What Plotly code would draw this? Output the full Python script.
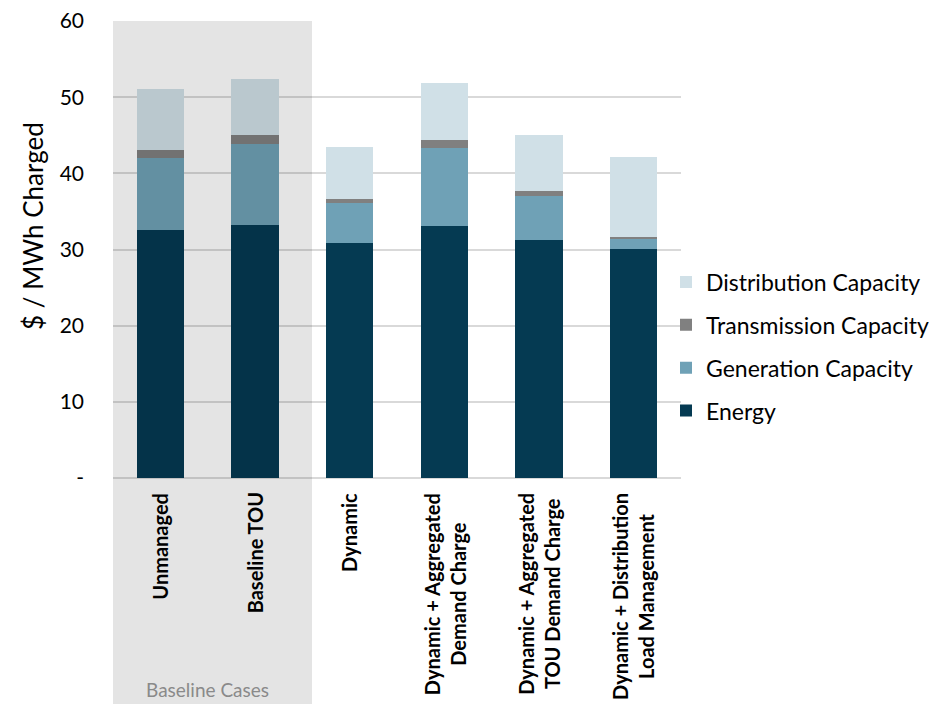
import plotly.graph_objects as go

categories = [
    "Unmanaged",
    "Baseline TOU",
    "Dynamic",
    "Dynamic + Aggregated<br>Demand Charge",
    "Dynamic + Aggregated<br>TOU Demand Charge",
    "Dynamic + Distribution<br>Load Management",
]
energy = [32.5, 33.2, 30.9, 33.1, 31.2, 30.1]
generation = [9.5, 10.6, 5.2, 10.2, 5.8, 1.3]
transmission = [1.1, 1.2, 0.5, 1.1, 0.7, 0.2]
distribution = [8.0, 7.4, 6.9, 7.4, 7.3, 10.6]

series_names = ["Energy", "Generation Capacity", "Transmission Capacity", "Distribution Capacity"]
series_values = [energy, generation, transmission, distribution]
series_colors = ["#053A52", "#6FA1B6", "#808080", "#D0E0E7"]

y_tickvals = [0, 10, 20, 30, 40, 50, 60]
y_ticktext = ["-", "10", "20", "30", "40", "50", "60"]

FONT = "Lato"

fig = go.Figure()
n = len(series_names)
for k, (name, vals, col) in enumerate(zip(series_names, series_values, series_colors)):
    fig.add_trace(go.Bar(
        x=list(range(len(categories))), y=vals, name=name,
        marker=dict(color=col, line=dict(width=0)),
        width=0.5, legendgroup=name, legendrank=n - k,
    ))

fig.update_layout(
    width=933, height=704,
    margin=dict(l=113, r=252, t=21, b=226, autoexpand=False),
    barmode="stack",
    plot_bgcolor="white", paper_bgcolor="white",
    font=dict(family=FONT, color="#000000"),
    showlegend=True,
    legend=dict(
        x=1.0 - 15 / 568, xanchor="left", y=0.476, yanchor="top",
        traceorder="grouped", tracegroupgap=10,
        font=dict(size=23, family=FONT, color="#000000"),
        bgcolor="rgba(0,0,0,0)",
    ),
    xaxis=dict(
        range=[-0.5, len(categories) - 0.5],
        showticklabels=False, showgrid=False, zeroline=False,
        showline=False, ticks="",
    ),
    yaxis=dict(
        range=[0, 60], tickvals=y_tickvals, ticktext=y_ticktext,
        showgrid=True, gridcolor="#D9D9D9", gridwidth=2,
        zeroline=True, zerolinecolor="#D9D9D9", zerolinewidth=2,
        showline=False, ticks="", ticklabelstandoff=28,
        tickfont=dict(size=21, family=FONT, color="#000000"),
    ),
)

# Baseline shaded region (drawn above bars, semi-transparent)
fig.add_shape(
    type="rect", xref="paper", yref="paper",
    x0=0, x1=(312 - 113) / 568, y0=-226 / 457, y1=1,
    fillcolor="rgba(0,0,0,0.105)", line=dict(width=0), layer="above",
)

# Category labels
for i, c in enumerate(categories):
    fig.add_annotation(
        x=i, y=-0.028, xref="x", yref="paper",
        text="<b>" + c + "</b>", textangle=-90,
        xanchor="center", yanchor="top", align="center",
        showarrow=False, font=dict(size=20, family=FONT, color="#000000"),
    )

fig.add_annotation(
    x=(207 - 113) / 568, y=(478 - 689) / 457, xref="paper", yref="paper",
    text="Baseline Cases", showarrow=False,
    xanchor="center", yanchor="middle",
    font=dict(size=19, family=FONT, color="#8A8A8A"),
)

fig.add_annotation(
    x=(33 - 113) / 568, y=(478 - 226) / 457, xref="paper", yref="paper",
    text="$ / MWh Charged", textangle=-90, showarrow=False,
    xanchor="center", yanchor="middle",
    font=dict(size=26, family=FONT, color="#000000"),
)

fig.write_html("out.html")
